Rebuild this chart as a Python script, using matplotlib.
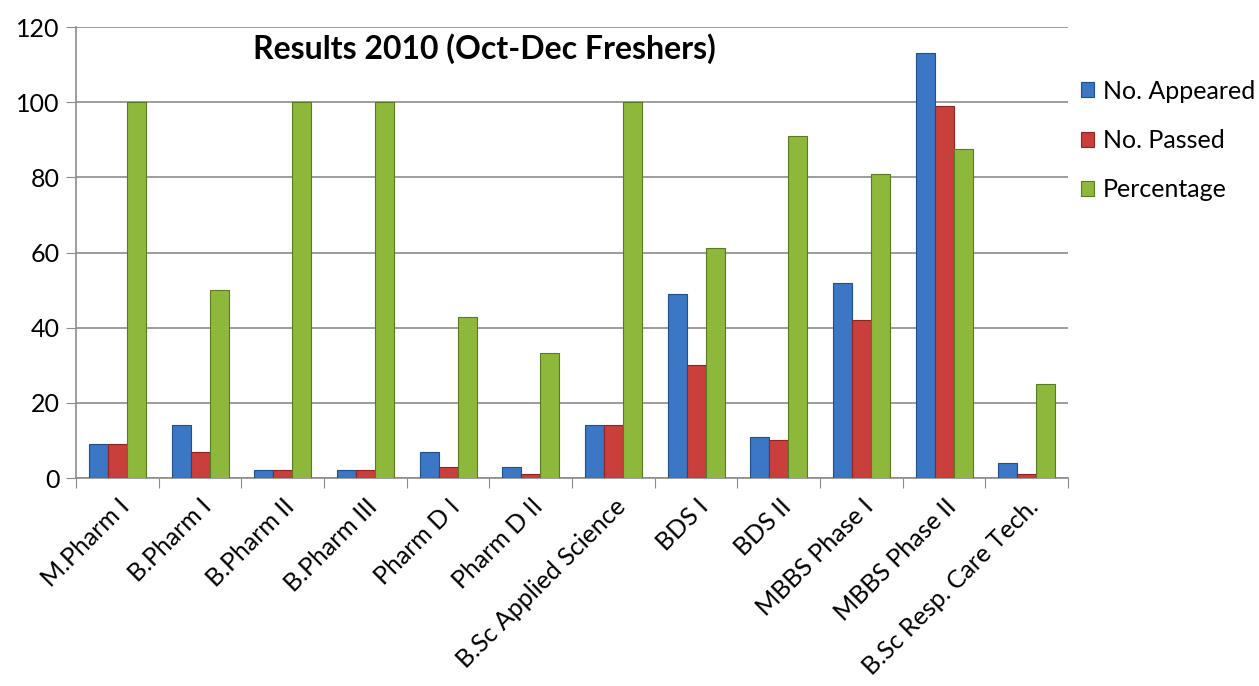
import matplotlib.pyplot as plt
import numpy as np

plt.rcParams['font.family'] = ['Lato', 'DejaVu Sans']

# Data
courses = ['M.Pharm I', 'B.Pharm I', 'B.Pharm II', 'B.Pharm III', 'Pharm D I',
           'Pharm D II', 'B.Sc Applied Science', 'BDS I', 'BDS II',
           'MBBS Phase I', 'MBBS Phase II', 'B.Sc Resp. Care Tech.']
appeared = [9, 14, 2, 2, 7, 3, 14, 49, 11, 52, 113, 4]
passed = [9, 7, 2, 2, 3, 1, 14, 30, 10, 42, 99, 1]
percentage = [100, 50, 100, 100, 42.86, 33.33, 100, 61.22, 90.91, 80.77, 87.61, 25]

series = [('No. Appeared', appeared, '#3b77c4', '#1f4f8f'),
          ('No. Passed', passed, '#c93f3c', '#8e2522'),
          ('Percentage', percentage, '#8db83c', '#5a7a22')]

fig = plt.figure(figsize=(12.59, 6.86), dpi=100)
ax = fig.add_axes([0.0604, 0.3032, 0.788, 0.6574])

x = np.arange(len(courses))
w = 0.23
for i, (name, vals, col, edge) in enumerate(series):
    ax.bar(x + (i - 1) * w, vals, width=w, color=col, edgecolor=edge,
           linewidth=0.8, label=name, zorder=3)

ax.set_xlim(-0.5, len(courses) - 0.5)
ax.set_ylim(0, 120)
ax.set_yticks(range(0, 121, 20))
ax.yaxis.grid(True, color='#8c8c8c', linewidth=1.2, zorder=0)
ax.tick_params(axis='y', labelsize=18, length=7, color='#8c8c8c', pad=5)

# category separators as ticks, labels in centre
ax.set_xticks(np.arange(-0.5, len(courses), 1))
ax.set_xticklabels([])
ax.set_xticks(x, minor=True)
ax.set_xticklabels(courses, minor=True, rotation=45, ha='right',
                   rotation_mode='anchor', fontsize=18)
ax.tick_params(axis='x', which='major', length=7, color='#8c8c8c')
ax.tick_params(axis='x', which='minor', length=0, pad=12)

for s in ['top', 'right']:
    ax.spines[s].set_visible(False)
for s in ['left', 'bottom']:
    ax.spines[s].set_color('#8c8c8c')
    ax.spines[s].set_linewidth(1.2)

ax.text(0.412, 0.953, 'Results 2010 (Oct-Dec Freshers)', transform=ax.transAxes,
        ha='center', va='center', fontsize=23, fontweight='bold')

ax.legend(loc='upper left', bbox_to_anchor=(0.995, 0.922), frameon=False,
          fontsize=18, handlelength=0.55, handleheight=0.55, handletextpad=0.35,
          labelspacing=1.05, borderaxespad=0.3)

fig.savefig('out.png', dpi=100)
